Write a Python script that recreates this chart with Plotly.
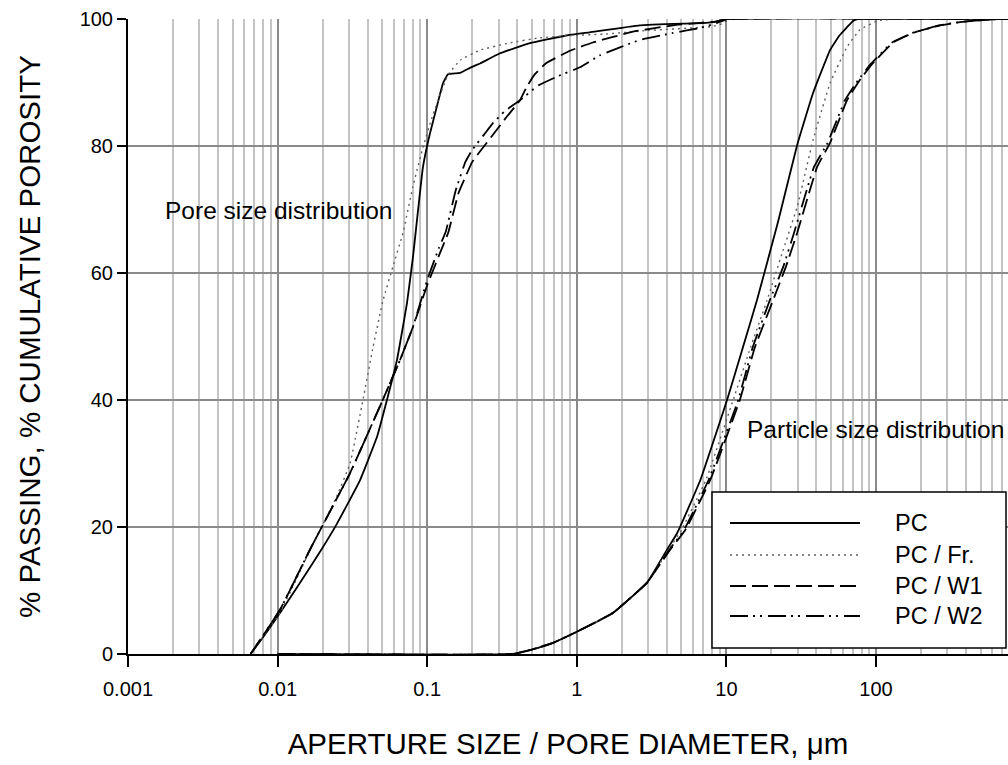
import plotly.graph_objects as go
import math

# ---------------- data ----------------
# Pore size distribution (cumulative porosity)
pore_pc_x = [0.0066, 0.0085, 0.0104, 0.0135, 0.0183, 0.0249, 0.0356, 0.0462, 0.0538, 0.0628,
             0.0733, 0.0803, 0.0937, 0.1044, 0.116, 0.1276, 0.1377, 0.1656, 0.193, 0.2254,
             0.307, 0.487, 0.85, 1.22, 2.64, 5.7, 7.3, 8.5, 10.1, 1000]
pore_pc_y = [0, 3.5, 6.5, 10.5, 15.3, 20.5, 27.4, 34.2, 40, 46.3,
             55.3, 62.5, 76.7, 82, 86.2, 89.9, 91.3, 91.5, 92.3, 93,
             94.6, 96.2, 97.4, 97.9, 99, 99.3, 99.4, 99.6, 100, 100]

pore_fr_x = [0.0066, 0.0104, 0.0165, 0.0245, 0.0305, 0.0372, 0.0434, 0.0507, 0.059, 0.0689,
             0.08, 0.0937, 0.108, 0.1276, 0.1377, 0.1656, 0.2254, 0.35, 0.55, 0.9,
             1.5, 3, 6, 8, 9.5, 10.5, 1000]
pore_fr_y = [0, 6.5, 16.4, 24.5, 30, 40, 48.3, 55.7, 61, 66.3,
             73.5, 79.8, 84.6, 89.3, 91.2, 93.5, 95.1, 96.2, 97, 97.4,
             97.6, 98.2, 98.6, 98.8, 99.3, 100, 100]

pore_w1_x = [0.0066, 0.0104, 0.0165, 0.0305, 0.0483, 0.0658, 0.0803, 0.0997, 0.122, 0.138,
             0.162, 0.2, 0.23, 0.28, 0.34, 0.417, 0.46, 0.52, 0.62, 0.9, 1.28,
             2.38, 4.4, 6.7, 8.5, 10.1, 1000]
pore_w1_y = [0, 7, 16.5, 28.5, 39, 46.3, 51.5, 58, 63.2, 66.3,
             72.6, 77.5, 79.4, 82, 84.6, 87.2, 89.2, 91.2, 93, 95, 96.3,
             98, 99, 99.4, 99.6, 100, 100]

pore_w2_x = [0.0066, 0.0104, 0.0165, 0.0305, 0.0483, 0.0658, 0.0803, 0.0997, 0.12, 0.133,
             0.155, 0.18, 0.2, 0.24, 0.275, 0.33, 0.417, 0.55, 0.75, 1.05, 1.43, 2.64,
             4.4, 6.7, 8.5, 10.1, 1000]
pore_w2_y = [0, 7, 16.5, 28.5, 39, 46.3, 51.5, 58.8, 64, 66.5,
             73, 77.5, 79.4, 81.8, 83.6, 85.5, 87.2, 89.5, 91, 92.4, 94.3, 96.7,
             97.8, 98.6, 99.3, 100, 100]

# Particle size distribution (% passing)
part_pc_x = [0.01, 0.37, 0.5, 0.7, 1.0, 1.75, 2.94, 4.0, 4.7, 6.7,
             10.1, 12.9, 16.0, 22.1, 29.6, 37.9, 49.3, 57, 64, 70.2, 75, 1000]
part_pc_y = [0, 0, 0.7, 1.8, 3.5, 6.5, 11.2, 16.4, 19.1, 27.4,
             40, 48.3, 55.7, 68, 80, 88.3, 95.1, 97.4, 98.7, 99.7, 100, 100]

part_fr_x = [0.01, 0.37, 0.5, 0.7, 1.0, 1.75, 2.94, 4.1, 5.0, 7.3,
             11.1, 14.5, 18.7, 23.5, 29.7, 37.9, 49.3, 64, 78, 102, 130, 1000]
part_fr_y = [0, 0, 0.7, 1.8, 3.5, 6.5, 11.2, 16.4, 19.5, 27.4,
             40, 48.3, 55.7, 63, 70.4, 80.9, 89.9, 95.6, 98.3, 99.7, 100, 100]

part_w1_x = [0.01, 0.37, 0.5, 0.7, 1.0, 1.75, 2.94, 4.2, 5.3, 7.8,
             12.3, 15.5, 20.5, 25, 29.7, 40.4, 49.3, 64, 78, 95,
             130, 177, 268, 364, 495, 680, 1000]
part_w1_y = [0, 0, 0.7, 1.8, 3.5, 6.5, 11.2, 16.4, 19.5, 27.4,
             40, 48.3, 55.7, 61, 66.3, 76.7, 80.5, 87.2, 90.4, 93,
             96.3, 97.8, 99, 99.5, 99.8, 100, 100]

part_w2_x = [0.01, 0.37, 0.5, 0.7, 1.0, 1.75, 2.94, 4.15, 5.2, 7.6,
             12.0, 15.0, 19.5, 24, 28.3, 38.5, 47.5, 62, 76, 93,
             128, 175, 265, 360, 490, 680, 1000]
part_w2_y = [0, 0, 0.7, 1.8, 3.5, 6.5, 11.2, 16.4, 19.5, 27.4,
             40, 48.3, 55.7, 61, 66.3, 76.7, 80.5, 87.2, 90.4, 93,
             96.3, 97.8, 99, 99.5, 99.8, 100, 100]

series_names = ["PC", "PC / Fr.", "PC / W1", "PC / W2"]
x_tick_vals = [0.001, 0.01, 0.1, 1, 10, 100]
x_tick_text = ["0.001", "0.01", "0.1", "1", "10", "100"]
y_tick_vals = [0, 20, 40, 60, 80, 100]

# ---------------- styles ----------------
FONT = "Liberation Sans, Arial, sans-serif"
styles = [
    dict(color="black", width=1.8, dash="solid"),
    dict(color="#606060", width=1.4, dash="2px,4px"),
    dict(color="black", width=1.8, dash="16px,6px"),
    dict(color="black", width=1.8, dash="18px,5px,2px,5px,2px,6px"),
]

fig = go.Figure()
pore = [(pore_pc_x, pore_pc_y), (pore_fr_x, pore_fr_y), (pore_w1_x, pore_w1_y), (pore_w2_x, pore_w2_y)]
part = [(part_pc_x, part_pc_y), (part_fr_x, part_fr_y), (part_w1_x, part_w1_y), (part_w2_x, part_w2_y)]
for i, name in enumerate(series_names):
    for (xs, ys) in (pore[i], part[i]):
        fig.add_trace(go.Scatter(x=xs, y=ys, mode="lines", name=name, showlegend=False,
                                 line=dict(shape="spline", smoothing=0.3, **styles[i])))

minor_vals = [k * 10.0 ** e for e in range(-3, 3) for k in range(2, 10)]

L, R, T, B = 128, 0, 19, 111
W, H = 1008, 765
pw = W - L - R
x_decade_px = 149.6
x_max_log = -3 + pw / x_decade_px

fig.update_layout(
    width=W, height=H,
    margin=dict(l=L, r=R, t=T, b=B, pad=0),
    paper_bgcolor="white", plot_bgcolor="white",
    font=dict(family=FONT, size=20, color="black"),
    xaxis=dict(
        type="log", range=[-3, x_max_log],
        tickvals=x_tick_vals, ticktext=x_tick_text,
        ticks="outside", ticklen=11, tickwidth=2, tickcolor="black",
        showline=True, linecolor="black", linewidth=2,
        showgrid=True, gridcolor="#8a8a8a", gridwidth=2,
        minor=dict(tickvals=minor_vals, showgrid=True, gridcolor="#c4c4c4", gridwidth=2, ticks=""),
        tickfont=dict(size=20), ticklabelstandoff=5,
        title=dict(text="APERTURE SIZE / PORE DIAMETER, \u03bcm", font=dict(size=29.5), standoff=34),
        zeroline=False,
    ),
    yaxis=dict(
        range=[0, 100], tickvals=y_tick_vals,
        ticks="outside", ticklen=9, tickwidth=2, tickcolor="black",
        showline=True, linecolor="black", linewidth=2,
        showgrid=True, gridcolor="#8a8a8a", gridwidth=2,
        tickfont=dict(size=20),
        title=dict(text="% PASSING, % CUMULATIVE POROSITY", font=dict(size=29.5), standoff=30),
        zeroline=False,
    ),
)

# text labels on the plot
fig.add_annotation(x=math.log10(0.00171), y=69.8, xref="x", yref="y", text="Pore size distribution",
                   showarrow=False, xanchor="left", yanchor="middle", font=dict(size=24.5))
fig.add_annotation(x=math.log10(13.3), y=35.3, xref="x", yref="y", text="Particle size distribution",
                   showarrow=False, xanchor="left", yanchor="middle", font=dict(size=24.5))

# custom legend box (long line samples as in the reference)
def px_x(p):
    return (p - L) / pw
def px_y(p):
    return (H - B - p) / (H - T - B)

fig.add_shape(type="rect", xref="paper", yref="paper",
              x0=px_x(712), x1=px_x(1006), y0=px_y(648), y1=px_y(492),
              line=dict(color="black", width=1.5), fillcolor="white", layer="above")
rows = [523, 555, 586, 616]
for i, name in enumerate(series_names):
    st = styles[i]
    fig.add_shape(type="line", xref="paper", yref="paper",
                  x0=px_x(730), x1=px_x(860), y0=px_y(rows[i]), y1=px_y(rows[i]),
                  line=dict(color=st["color"], width=st["width"], dash=st["dash"]), layer="above")
    fig.add_annotation(x=px_x(893), y=px_y(rows[i]), xref="paper", yref="paper", text=name,
                       showarrow=False, xanchor="left", yanchor="middle", font=dict(size=23.5))

fig.write_html("out.html")
